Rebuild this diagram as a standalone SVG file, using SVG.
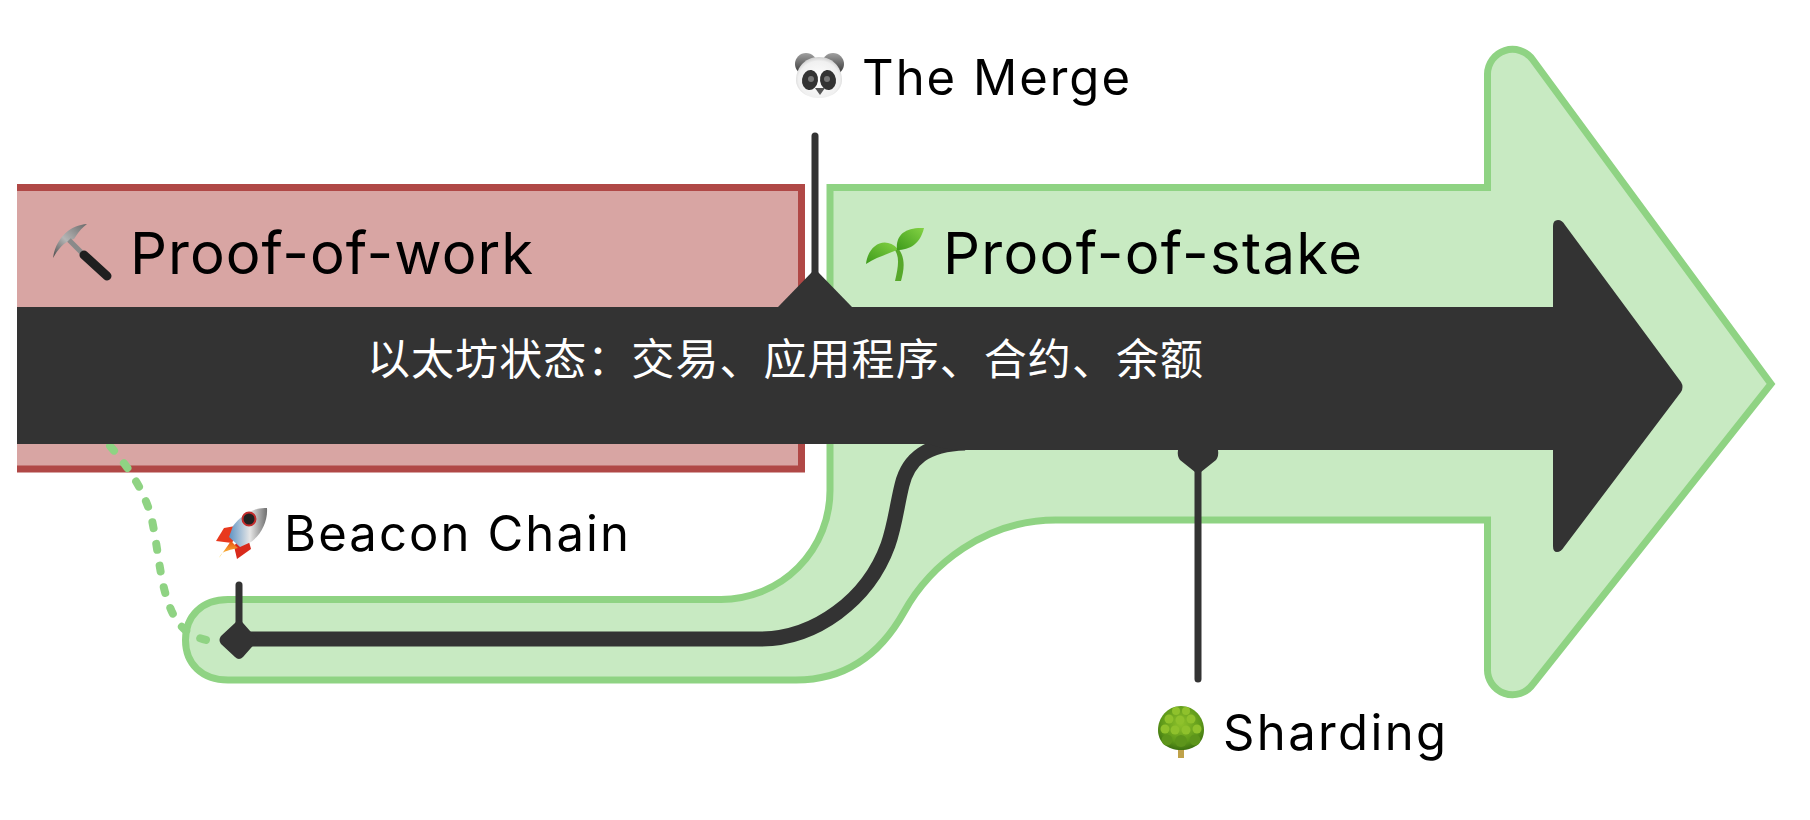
<svg xmlns="http://www.w3.org/2000/svg" width="1810" height="820" viewBox="0 0 1810 820">
<style>
.lbl{font-family:"Inter","Noto Sans","Liberation Sans",sans-serif;fill:#000}
.big{font-size:58px}
.mid{font-size:49px}
.cjk{font-family:"Noto Sans CJK SC","Noto Sans",sans-serif;font-size:43px;font-weight:400;fill:#fff}
.dark{fill:#333;stroke:none}
.tie{fill:none;stroke:#333;stroke-width:7;stroke-linecap:round}
</style>
<defs>
<linearGradient id="metal" x1="0" y1="1" x2="1" y2="0"><stop offset="0" stop-color="#4a4a4a"/><stop offset=".45" stop-color="#b5b5b5"/><stop offset="1" stop-color="#6a6a6a"/></linearGradient>
<radialGradient id="fur" cx=".5" cy=".55" r=".6"><stop offset="0" stop-color="#fff"/><stop offset=".75" stop-color="#f0f0f0"/><stop offset="1" stop-color="#bdbdbd"/></radialGradient>
<linearGradient id="ear" x1="0" y1="0" x2="0" y2="1"><stop offset="0" stop-color="#a0a0a0"/><stop offset="1" stop-color="#2f2f2f"/></linearGradient>
<linearGradient id="leaf" x1="0" y1="1" x2="1" y2="0"><stop offset="0" stop-color="#3d9a1b"/><stop offset="1" stop-color="#84d344"/></linearGradient>
<linearGradient id="hull" x1="0" y1="0" x2="1" y2="0"><stop offset="0" stop-color="#5d93c4"/><stop offset=".55" stop-color="#e6e6e6"/><stop offset="1" stop-color="#6f6f6f"/></linearGradient>
<linearGradient id="flame" x1="0" y1="0" x2="0" y2="1"><stop offset="0" stop-color="#e8500f"/><stop offset="1" stop-color="#ffe04a"/></linearGradient>
<radialGradient id="crown" cx=".5" cy=".4" r=".6"><stop offset="0" stop-color="#8fc22b"/><stop offset=".7" stop-color="#5f9a1a"/><stop offset="1" stop-color="#3d7210"/></radialGradient>
</defs>

<g id="proof-of-work">
<path d="M17 187.5H801.5V469H17" fill="#d8a5a3" stroke="#b04846" stroke-width="7"/>
<g aria-label="pick">
<path d="M87 224C70 225 56 238 53 258C60 246 66 241 74 239L76 236C79 231 83 227 87 224Z" fill="url(#metal)"/>
<path d="M69 240L85 256" stroke="#8a8a8a" stroke-width="5" fill="none"/>
<path d="M84 255L107 276" stroke="#1f1f1f" stroke-width="9" stroke-linecap="round" fill="none"/>
</g>
<text class="lbl big" x="130" y="274" textLength="403" lengthAdjust="spacing">Proof-of-work</text>
</g>

<g id="proof-of-stake">
<path d="M830 187.5H1487.5V74A25 25 0 0 1 1532.6 59.5L1771 384L1533 684A25 25 0 0 1 1487.5 668.5V520H1056C985 520 930 565 904 612C880 655 845 680 796 680H228C202 680 185.5 664 185.5 640C185.5 616 202 599.5 228 599.5H721A109 109 0 0 0 830 490Z" fill="#c8eac2" stroke="#8fd383" stroke-width="7" stroke-linejoin="miter"/>
<g aria-label="seedling">
<path d="M898 248C906 258 904 270 901 281H895C898 268 900 258 895 250Z" fill="#57a82b"/>
<path d="M866 264C868 245 885 235 898 249C890 254 878 256 866 264Z" fill="url(#leaf)"/>
<path d="M924 228C920 244 910 250 897 250C895 233 908 227 924 228Z" fill="url(#leaf)"/>
</g>
<text class="lbl big" x="943" y="274" textLength="419" lengthAdjust="spacing">Proof-of-stake</text>
</g>

<g id="connectors">
<path d="M95 430C125 460 145 490 152 520C160 560 160 585 172 612C182 632 195 640 220 642" fill="none" stroke="#8fd383" stroke-width="8" stroke-linecap="round" stroke-dasharray="6 16"/>
<path d="M240 639H760C815 639 868 600 888 545C895 525 897 505 902 485C908 460 925 444 965 443" fill="none" stroke="#333" stroke-width="15"/>
<path class="tie" d="M815 136V290"/>
<path class="tie" d="M239 585V630"/>
<path class="tie" d="M1198 450V679"/>
</g>

<g id="ethereum-state">
<path class="dark" d="M17 307H1553V226Q1553 220 1558 220Q1562 220 1565 225L1681 382Q1684 387 1681 392L1564 547Q1561 552 1557 552Q1553 552 1553 546V450H963C945 450 936 446 928 444H17Z"/>
<text class="cjk" x="367" y="375" textLength="836" lengthAdjust="spacing">以太坊状态：交易、应用程序、合约、余额</text>
</g>

<g id="the-merge">
<path class="dark" d="M778 307L813 271Q815 269 817 271L852 307Z"/>
<g aria-label="panda">
<circle cx="806" cy="64" r="11" fill="url(#ear)"/><circle cx="833" cy="64" r="11" fill="url(#ear)"/>
<path d="M819 57C835 57 842 70 842 80C842 90 832 98 819 98C806 98 796 90 796 80C796 70 803 57 819 57Z" fill="url(#fur)"/>
<ellipse cx="810" cy="80" rx="8" ry="10" fill="#333" transform="rotate(8 810 80)"/>
<ellipse cx="828" cy="80" rx="8" ry="10" fill="#333" transform="rotate(-8 828 80)"/>
<circle cx="811" cy="79" r="3" fill="#777"/><circle cx="827" cy="79" r="3" fill="#777"/>
<path d="M815 88H825L820 95Z" fill="#555"/>
</g>
<text class="lbl mid" x="862" y="95" textLength="268" lengthAdjust="spacing">The Merge</text>
</g>

<g id="beacon-chain">
<path class="dark" d="M239 620Q241 620 243 623L258 640L243 657Q239 661 235 657L221 644Q218 640 221 636L235 623Q237 620 239 620Z"/>
<g aria-label="rocket">
<path d="M224 528L241 525L232 543L216 541Z" fill="#e8391e"/>
<path d="M251 549L246 531L234 546L237 559Z" fill="#d92a1c"/>
<path d="M231 541L219 558C222 551 226 551 238 548Z" fill="url(#flame)"/>
<path d="M267 508C254 507 241 515 233 526L229 537L240 547L251 542C261 535 268 521 267 508Z" fill="url(#hull)"/>
<circle cx="249" cy="519" r="6.5" fill="#222" stroke="#c32c2c" stroke-width="2"/>
</g>
<text class="lbl mid" x="284" y="551" textLength="345" lengthAdjust="spacing">Beacon Chain</text>
</g>

<g id="sharding">
<path class="dark" d="M1178 450H1218Q1219 456 1216 460L1201 472H1195L1180 460Q1177 456 1178 450Z"/>
<g aria-label="tree">
<rect x="1178" y="746" width="6" height="12" fill="#bfa24a"/>
<path d="M1181 706C1195 706 1204 718 1204 730C1204 742 1195 750 1181 750C1167 750 1158 742 1158 730C1158 718 1167 706 1181 706Z" fill="url(#crown)"/>
<g fill="#8fc12c"><circle cx="1176" cy="711" r="4"/><circle cx="1186" cy="711" r="4"/><circle cx="1169" cy="719" r="4.5"/><circle cx="1180" cy="720" r="4.5"/><circle cx="1191" cy="719" r="4.5"/><circle cx="1165" cy="729" r="4.5"/><circle cx="1175" cy="730" r="4.5"/><circle cx="1186" cy="730" r="4.5"/><circle cx="1197" cy="729" r="4.5"/></g>
<g fill="#5d951b"><circle cx="1167" cy="740" r="5.5"/><circle cx="1181" cy="741" r="6"/><circle cx="1195" cy="740" r="5.5"/></g>
</g>
<text class="lbl mid" x="1223" y="750" textLength="223" lengthAdjust="spacing">Sharding</text>
</g>
</svg>
